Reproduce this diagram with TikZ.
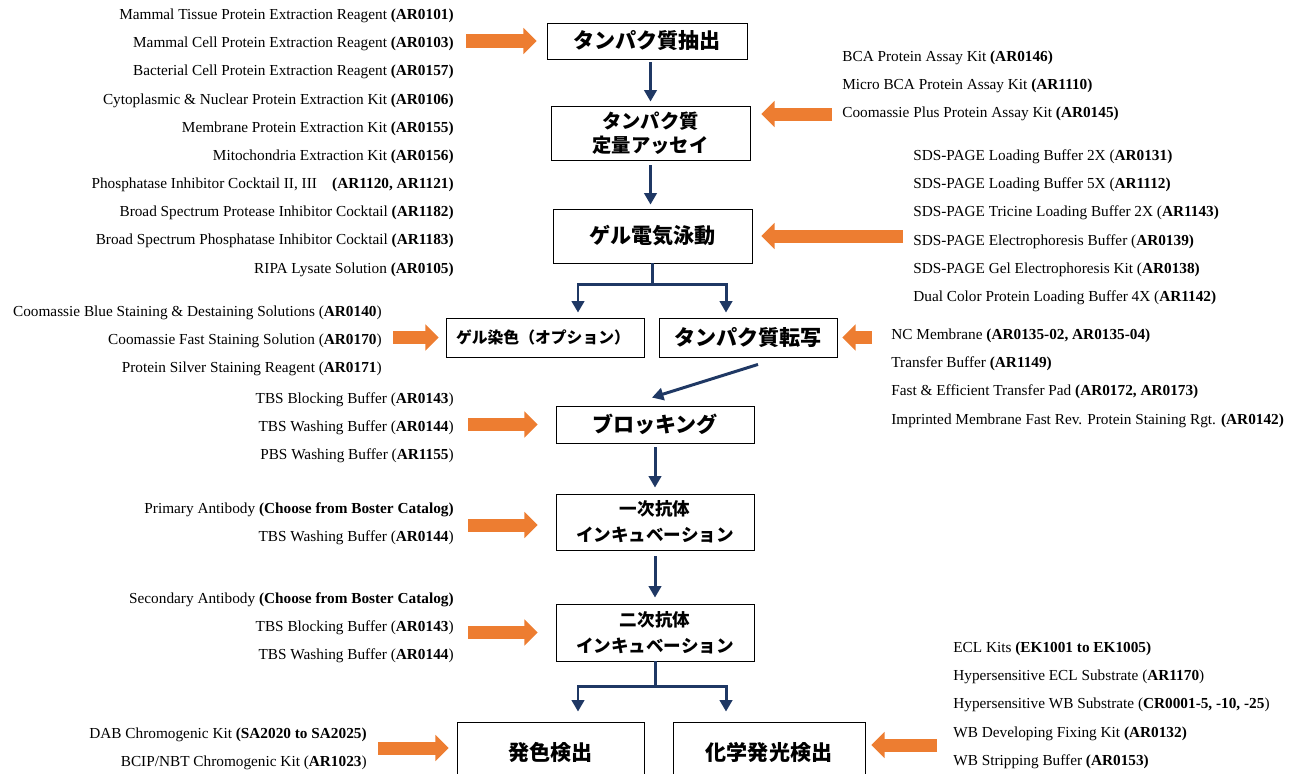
\documentclass[tikz,border=0pt]{standalone}
\usepackage{fontspec}
\setmainfont{Liberation Serif}
\newfontfamily\jpfont{Noto Sans CJK JP}
\usetikzlibrary{arrows.meta}
\definecolor{flownavy}{HTML}{1F3864}
\definecolor{feedorange}{HTML}{ED7D31}
\tikzset{
  stage/.style={draw, line width=0.5pt, align=center, inner sep=0pt, font=\jpfont\bfseries\fontsize{12}{14}\selectfont},
  itemsl/.style={anchor=north west, align=left, inner sep=0pt, font=\fontsize{8.7}{16.04}\selectfont},
  itemsr/.style={anchor=north east, align=right, inner sep=0pt, font=\fontsize{8.7}{16.04}\selectfont},
  trunk/.style={draw=flownavy, line width=1.7pt},
  flow/.style={trunk, -{Triangle[length=6.5pt,width=7pt]}},
  feed/.style={draw=feedorange, line width=7.4pt, -{Triangle[length=7.5pt,width=14.5pt]}, shorten <=0.24cm, shorten >=0.2cm},
}
\begin{document}
\begin{tikzpicture}[x=0.02cm, y=-0.02cm]
\useasboundingbox (0,0) rectangle (1305,774);

\node[stage, minimum width=4cm, minimum height=0.72cm] (extract) at (647,41) {タンパク質抽出};
\node[stage, minimum width=3.98cm, minimum height=1.08cm, font=\jpfont\bfseries\fontsize{11}{13.6}\selectfont] (assay) at (650.5,133) {タンパク質\\定量アッセイ};
\node[stage, minimum width=3.98cm, minimum height=1.08cm] (gel) at (652.5,236) {ゲル電気泳動};
\node[stage, text width=3.56cm, inner xsep=0.2cm, minimum height=0.78cm, align=left, font=\jpfont\bfseries\fontsize{9}{11}\selectfont] (stain) at (545,337.5) {ゲル染色（オプション）};
\node[stage, minimum width=3.56cm, minimum height=0.78cm] (transfer) at (748,337.5) {タンパク質転写};
\node[stage, minimum width=3.96cm, minimum height=0.74cm] (block) at (655,424.5) {ブロッキング};
\node[stage, minimum width=3.96cm, minimum height=1.12cm, font=\jpfont\bfseries\fontsize{10}{14.7}\selectfont] (primary) at (655,522) {一次抗体\\インキュベーション};
\node[stage, minimum width=3.96cm, minimum height=1.14cm, font=\jpfont\bfseries\fontsize{10}{14.7}\selectfont] (secondary) at (655,632.5) {二次抗体\\インキュベーション};
\node[stage, minimum width=3.74cm, minimum height=1.2cm] (color) at (550.5,752) {発色検出};
\node[stage, minimum width=3.84cm, minimum height=1.2cm] (chemi) at (769,752) {化学発光検出};

\node[itemsr] (extractlist) at (454,8.5) {Mammal Tissue Protein Extraction Reagent \textbf{(AR0101)}\\
Mammal Cell Protein Extraction Reagent \textbf{(AR0103)}\\
Bacterial Cell Protein Extraction Reagent \textbf{(AR0157)}\\
Cytoplasmic \& Nuclear Protein Extraction Kit \textbf{(AR0106)}\\
Membrane Protein Extraction Kit \textbf{(AR0155)}\\
Mitochondria Extraction Kit \textbf{(AR0156)}\\
Phosphatase Inhibitor Cocktail II, III\quad\textbf{(AR1120, AR1121)}\\
Broad Spectrum Protease Inhibitor Cocktail \textbf{(AR1182)}\\
Broad Spectrum Phosphatase Inhibitor Cocktail \textbf{(AR1183)}\\
RIPA Lysate Solution \textbf{(AR0105)}};
\node[itemsl] (assaylist) at (842,50.5) {BCA Protein Assay Kit \textbf{(AR0146)}\\
Micro BCA Protein Assay Kit \textbf{(AR1110)}\\
Coomassie Plus Protein Assay Kit \textbf{(AR0145)}};
\node[itemsl] (gellist) at (913,149.5) {SDS-PAGE Loading Buffer 2X (\textbf{AR0131)}\\
SDS-PAGE Loading Buffer 5X (\textbf{AR1112)}\\
SDS-PAGE Tricine Loading Buffer 2X (\textbf{AR1143)}\\
SDS-PAGE Electrophoresis Buffer (\textbf{AR0139)}\\
SDS-PAGE Gel Electrophoresis Kit (\textbf{AR0138)}\\
Dual Color Protein Loading Buffer 4X (\textbf{AR1142)}};
\node[itemsr] (stainlist) at (382,305.5) {Coomassie Blue Staining \& Destaining Solutions (\textbf{AR0140})\\
Coomassie Fast Staining Solution (\textbf{AR0170})\\
Protein Silver Staining Reagent (\textbf{AR0171})};
\node[itemsl] (translist) at (891,328.5) {NC Membrane \textbf{(AR0135-02, AR0135-04)}\\
Transfer Buffer \textbf{(AR1149)}\\
Fast \& Efficient Transfer Pad \textbf{(AR0172, AR0173)}\\
Imprinted Membrane Fast Rev. Protein Staining Rgt. \textbf{(AR0142)}};
\node[itemsr] (blocklist) at (454,392.5) {TBS Blocking Buffer (\textbf{AR0143})\\
TBS Washing Buffer (\textbf{AR0144})\\
PBS Washing Buffer (\textbf{AR1155})};
\node[itemsr] (primlist) at (454,502.5) {Primary Antibody \textbf{(Choose from Boster Catalog)}\\
TBS Washing Buffer (\textbf{AR0144})};
\node[itemsr] (seclist) at (454,592.5) {Secondary Antibody \textbf{(Choose from Boster Catalog)}\\
TBS Blocking Buffer (\textbf{AR0143})\\
TBS Washing Buffer (\textbf{AR0144})};
\node[itemsr] (colorlist) at (367,727.5) {DAB Chromogenic Kit \textbf{(SA2020 to SA2025)}\\
BCIP/NBT Chromogenic Kit (\textbf{AR1023})};
\node[itemsl] (chemilist) at (953,641.5) {ECL Kits \textbf{(EK1001 to EK1005)}\\
Hypersensitive ECL Substrate (\textbf{AR1170})\\
Hypersensitive WB Substrate (\textbf{CR0001-5, -10, -25})\\
WB Developing Fixing Kit \textbf{(AR0132)}\\
WB Stripping Buffer \textbf{(AR0153)}};

\coordinate (split1) at ([yshift=-0.42cm]gel.south);
\coordinate (stainin) at ([xshift=0.66cm]stain.north);
\coordinate (transin) at ([xshift=-0.44cm]transfer.north);
\coordinate (transout) at ([xshift=0.2cm,yshift=-0.14cm]transfer.south);
\coordinate (blockin) at ([xshift=-0.06cm,yshift=0.16cm]block.north);
\coordinate (split2) at ([yshift=-0.5cm]secondary.south);
\coordinate (colorin) at ([xshift=0.55cm]color.north);
\coordinate (chemiin) at ([xshift=-0.86cm]chemi.north);

\draw[flow, shorten <=0.06cm, shorten >=0.08cm] (assay.north |- extract.south) -- (assay.north);
\draw[flow, shorten <=0.1cm, shorten >=0.08cm] (assay.south) -- (assay.south |- gel.north);
\draw[trunk] (gel.south) -- (split1);
\draw[flow, {Triangle[length=6.5pt,width=7pt]}-{Triangle[length=6.5pt,width=7pt]}, shorten <=0.1cm, shorten >=0.1cm] (stainin) |- (split1) -| (transin);
\draw[flow] (transout) -- (blockin);
\draw[flow, shorten <=0.08cm, shorten >=0.12cm] (block.south) -- (primary.north);
\draw[flow, shorten <=0.12cm, shorten >=0.12cm] (primary.south) -- (secondary.north);
\draw[trunk] (secondary.south) -- (split2);
\draw[flow, {Triangle[length=6.5pt,width=7pt]}-{Triangle[length=6.5pt,width=7pt]}, shorten <=0.2cm, shorten >=0.2cm] (colorin) |- (split2) -| (chemiin);

\coordinate (assayfeed) at ([yshift=0.38cm]assay.east);
\coordinate (primfeed) at ([yshift=-0.06cm]primary.west);
\coordinate (colorfeed) at ([yshift=0.08cm]color.west);
\coordinate (chemifeed) at ([yshift=0.14cm]chemi.east);

\draw[feed] (extractlist.east |- extract.west) -- (extract.west);
\draw[feed, shorten <=0.2cm, shorten >=0.22cm] (assaylist.west |- assayfeed) -- (assayfeed);
\draw[feed, shorten <=0.2cm, shorten >=0.18cm] (gellist.west |- gel.east) -- (gel.east);
\draw[feed, shorten <=0.22cm, shorten >=0.14cm] (stainlist.east |- stain.west) -- (stain.west);
\draw[feed, shorten <=0.38cm, shorten >=0.1cm] (translist.west |- transfer.east) -- (transfer.east);
\draw[feed, shorten <=0.28cm, shorten >=0.36cm] (blocklist.east |- block.west) -- (block.west);
\draw[feed, shorten <=0.28cm, shorten >=0.36cm] (primlist.east |- primfeed) -- (primfeed);
\draw[feed, shorten <=0.28cm, shorten >=0.36cm] (seclist.east |- secondary.west) -- (secondary.west);
\draw[feed, shorten <=0.22cm, shorten >=0.16cm] (colorlist.east |- colorfeed) -- (colorfeed);
\draw[feed, shorten <=0.32cm, shorten >=0.12cm] (chemilist.west |- chemifeed) -- (chemifeed);
\end{tikzpicture}
\end{document}
